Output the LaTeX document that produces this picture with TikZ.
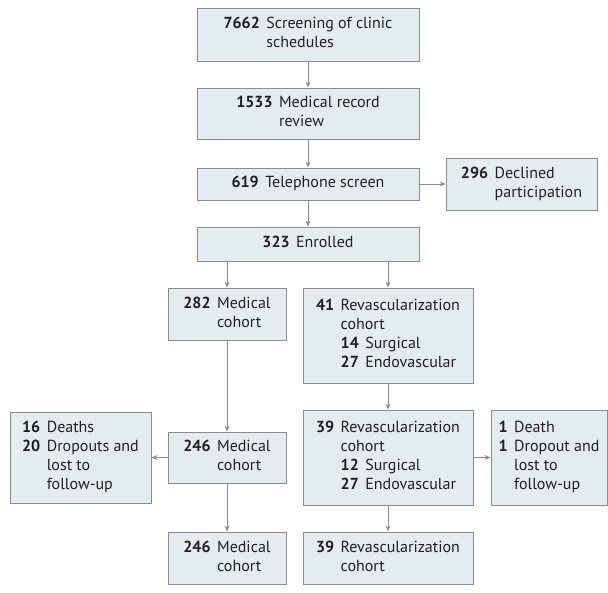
\documentclass[tikz,border=0pt]{standalone}
\usepackage{fontspec}
\setmainfont{PT Sans}
\usetikzlibrary{arrows.meta}

\definecolor{boxfill}{HTML}{E5ECF0}
\definecolor{boxline}{HTML}{8C8C8C}
\definecolor{txt}{HTML}{231F20}

\newcommand{\flowtext}[1]{\begin{tabular}{@{}l@{\hspace{6.5pt}}l@{}}#1\end{tabular}}

\tikzset{
  box/.style={draw=boxline, fill=boxfill, line width=0.9pt, inner sep=0pt,
    text=txt, font=\fontsize{16}{19}\selectfont},
  arr/.style={draw=boxline, line width=0.9pt, -{Stealth[length=6pt,width=5pt]}}
}

\begin{document}
\begin{tikzpicture}[x=1pt, y=-1pt]
  \useasboundingbox (0,0) rectangle (608,592);
  % main column
  \node[box, minimum width=222, minimum height=53] (screen) at (308,34.5)
    {\flowtext{\textbf{7662} & Screening of clinic\\ & schedules}};
  \node[box, minimum width=222, minimum height=51] (record) at (308,113.5)
    {\flowtext{\textbf{1533} & Medical record\\ & review}};
  \node[box, minimum width=222, minimum height=32] (phone) at (308,184)
    {\flowtext{\textbf{619} & Telephone screen}};
  \node[box, minimum width=151, minimum height=52] (declined) at (521.5,184)
    {\flowtext{\textbf{296} & Declined\\ & participation}};
  \node[box, minimum width=222, minimum height=34] (enrolled) at (308,244)
    {\flowtext{\textbf{323} & Enrolled}};
  % cohorts
  \node[box, minimum width=118, minimum height=52] (med1) at (227,314)
    {\flowtext{\textbf{282} & Medical\\ & cohort}};
  \node[box, minimum width=170, minimum height=95] (rev1) at (388,335.5)
    {\flowtext{\textbf{41} & Revascularization\\ & cohort\\
      & \textbf{14}\hspace{6.5pt}Surgical\\ & \textbf{27}\hspace{6.5pt}Endovascular}};
  \node[box, minimum width=118, minimum height=51] (med2) at (227,457.5)
    {\flowtext{\textbf{246} & Medical\\ & cohort}};
  \node[box, minimum width=170, minimum height=95] (rev2) at (388,457.5)
    {\flowtext{\textbf{39} & Revascularization\\ & cohort\\
      & \textbf{12}\hspace{6.5pt}Surgical\\ & \textbf{27}\hspace{6.5pt}Endovascular}};
  \node[box, minimum width=141, minimum height=91] (lostmed) at (80.5,457.5)
    {\flowtext{\textbf{16} & Deaths\\ \textbf{20} & Dropouts and\\ & lost to\\ & follow-up}};
  \node[box, minimum width=116, minimum height=95] (lostrev) at (549,457.5)
    {\flowtext{\textbf{1} & Death\\ \textbf{1} & Dropout and\\ & lost to\\ & follow-up}};
  \node[box, minimum width=118, minimum height=52] (med3) at (227,558)
    {\flowtext{\textbf{246} & Medical\\ & cohort}};
  \node[box, minimum width=170, minimum height=52] (rev3) at (388,558)
    {\flowtext{\textbf{39} & Revascularization\\ & cohort}};

  % arrows
  \draw[arr] (screen) -- (record);
  \draw[arr] (record) -- (phone);
  \draw[arr] (phone) -- (declined);
  \draw[arr] (phone) -- (enrolled);
  \draw[arr] (enrolled.south -| med1.north) -- (med1.north);
  \draw[arr] (enrolled.south -| rev1.north) -- (rev1.north);
  \draw[arr] (med1) -- (med2);
  \draw[arr] (rev1) -- (rev2);
  \draw[arr] (med2) -- (lostmed);
  \draw[arr] (rev2) -- (lostrev);
  \draw[arr] (med2) -- (med3);
  \draw[arr] (rev2) -- (rev3);
\end{tikzpicture}
\end{document}
